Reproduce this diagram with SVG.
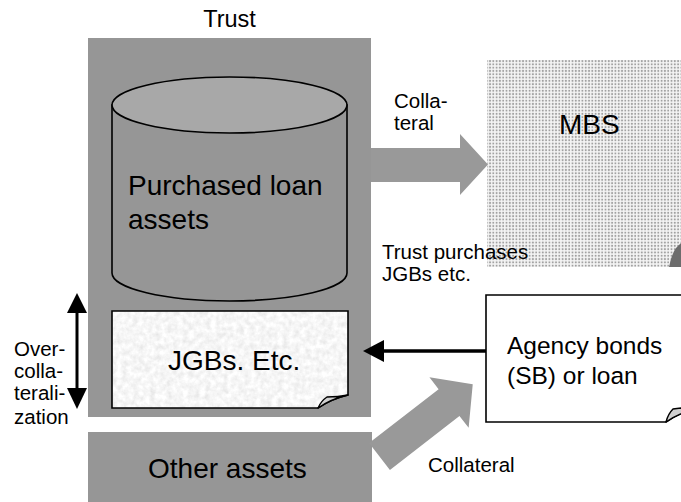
<svg xmlns="http://www.w3.org/2000/svg" width="681" height="502" viewBox="0 0 681 502">
  <style>
    text { font-family: "Liberation Sans", Arial, sans-serif; fill: #000; }
    .big { font-size: 28px; }
    .mid { font-size: 24.5px; }
    .lbl { font-size: 20.5px; }
    .block { fill: #969696; }
    .outline { stroke: #000; stroke-width: 1.6; }
    .curl { fill: #d0d0d0; stroke: #000; stroke-width: 1.4; stroke-linejoin: round; }
    .fat { fill: #999999; }
  </style>
  <defs>
    <!-- dot screen used for the MBS block -->
    <pattern id="dots" width="3.3" height="3.3" patternUnits="userSpaceOnUse">
      <rect width="3.3" height="3.3" fill="#f4f4f4"/>
      <circle cx="1.6" cy="1.6" r="1.0" fill="#a0a0a0"/>
    </pattern>
    <!-- granite-like speckle for the JGBs sheet -->
    <filter id="grain" x="0" y="0" width="100%" height="100%">
      <feTurbulence type="fractalNoise" baseFrequency="0.18" numOctaves="3" seed="7" result="n"/>
      <feColorMatrix in="n" type="saturate" values="0" result="g"/>
      <feComponentTransfer in="g" result="t">
        <feFuncR type="linear" slope="0.45" intercept="0.7"/>
        <feFuncG type="linear" slope="0.45" intercept="0.7"/>
        <feFuncB type="linear" slope="0.45" intercept="0.7"/>
        <feFuncA type="linear" slope="0" intercept="1"/>
      </feComponentTransfer>
      <feComposite in="t" in2="SourceGraphic" operator="in"/>
    </filter>
  </defs>

  <!-- Trust container -->
  <g id="trust">
    <text x="229.5" y="27" text-anchor="middle" style="font-size:23.5px">Trust</text>
    <rect class="block" x="88" y="38" width="283" height="379"/>
  </g>

  <!-- Other assets block -->
  <g id="other-assets">
    <rect class="block" x="88" y="432" width="284" height="72"/>
    <text class="big" x="148" y="478">Other assets</text>
  </g>

  <!-- Cylinder: purchased loan assets -->
  <g id="loan-assets">
    <path class="outline" fill="#969696" d="M112,105 V273 A117.5,28 0 0 0 347,273 V105 Z"/>
    <ellipse class="outline" cx="229.5" cy="105" rx="117.5" ry="28" fill="#a8a8a8"/>
    <text class="big" x="128" y="195">Purchased loan</text>
    <text class="big" x="128" y="229">assets</text>
  </g>

  <!-- JGBs sheet with curled corner -->
  <g id="jgbs">
    <path d="M112,311 H348 V395 Q331,399 318,408 H112 Z" fill="#fff" filter="url(#grain)"/>
    <path d="M112,311 H348 V395 Q331,399 318,408 H112 Z" fill="none" class="outline"/>
    <path class="curl" d="M318,408 Q321,401 327,397 Q338,397 348,395 Q331,399 318,408 Z"/>
    <text class="big" x="168" y="370">JGBs. Etc.</text>
  </g>

  <!-- MBS block -->
  <g id="mbs">
    <rect x="487" y="60" width="220" height="207" fill="url(#dots)"/>
    <path d="M669,267 Q672,253 676,248 L681,243 V267 Z" fill="#6c6c6c"/>
    <text class="big" x="559" y="134">MBS</text>
  </g>

  <!-- Agency bonds sheet -->
  <g id="agency">
    <path d="M486,295 H700 V408 Q680,412 666,422 H486 Z" fill="#fff" class="outline"/>
    <path class="curl" d="M666,422 Q668,414 673,409 Q686,407 700,408 Q680,412 666,422 Z"/>
    <text class="mid" x="507" y="354">Agency bonds</text>
    <text class="mid" x="507" y="384">(SB) or loan</text>
  </g>

  <!-- Connectors -->
  <g id="connectors">
    <!-- collateral into MBS -->
    <polygon class="fat" points="371,148 460,148 460,134 488,164.5 460,195 460,182 371,182"/>
    <!-- collateral from other assets to agency bonds -->
    <polygon class="fat" transform="translate(379.5,456.5) rotate(-37.8)" points="0,-17 88,-17 88,-32 118,0 88,32 88,17 0,17"/>
    <!-- trust buys JGBs from agency -->
    <line x1="486" y1="351" x2="380" y2="351" stroke="#000" stroke-width="3.5"/>
    <polygon points="363,351 384,340 384,362" fill="#000"/>
    <!-- over-collateralization span -->
    <line x1="77" y1="310" x2="77" y2="392" stroke="#000" stroke-width="3"/>
    <polygon points="77,293 67,313 87,313" fill="#000"/>
    <polygon points="77,409 67,388 87,388" fill="#000"/>
  </g>

  <!-- Labels -->
  <g id="labels">
    <text class="lbl" x="394" y="108">Colla-</text>
    <text class="lbl" x="394" y="130">teral</text>
    <text class="lbl" x="382" y="259">Trust purchases</text>
    <text class="lbl" x="382" y="281">JGBs etc.</text>
    <text class="lbl" x="14" y="356">Over-</text>
    <text class="lbl" x="14" y="378">colla-</text>
    <text class="lbl" x="14" y="400">terali-</text>
    <text class="lbl" x="14" y="424">zation</text>
    <text class="lbl" x="428" y="472">Collateral</text>
  </g>
</svg>
